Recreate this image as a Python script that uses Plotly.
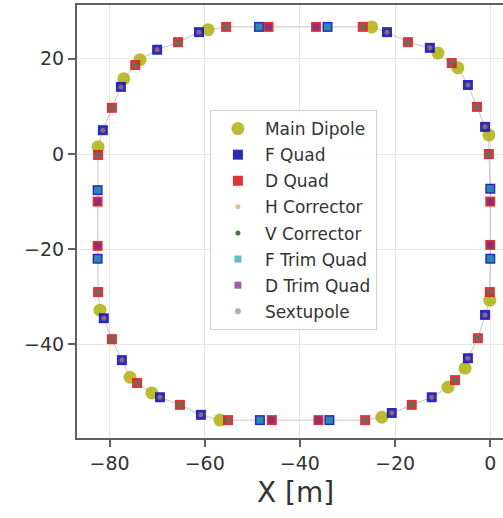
import numpy as np
import plotly.graph_objects as go

# ---- data (positions in metres) ----
dipole_x = [-82.4, -77.0, -73.6, -59.3, -24.9, -11.0, -6.8, -0.3, -0.1, -5.3, -8.9, -22.8, -56.8, -71.1, -75.7, -82.0]
dipole_y = [1.5, 15.8, 19.8, 26.1, 26.7, 21.2, 18.1, 4.0, -30.7, -45.0, -49.0, -55.3, -55.9, -50.2, -46.9, -32.8]

fquad_x = [-81.4, -77.6, -70.0, -61.2, -21.7, -12.7, -4.7, -1.1, -1.1, -4.7, -12.3, -20.7, -60.8, -69.4, -77.4, -81.2,
           -48.6, -34.2, 0.0, 0.0, -48.4, -33.8, -82.5, -82.5]
fquad_y = [5.0, 14.1, 21.9, 25.6, 25.6, 22.3, 14.5, 5.7, -33.8, -42.9, -51.1, -54.4, -54.8, -51.1, -43.3, -34.5,
           26.7, 26.7, -7.3, -22.0, -55.9, -55.9, -7.6, -22.0]

dquad_x = [-82.4, -79.5, -74.6, -65.6, -55.5, -26.8, -17.3, -8.1, -2.8, -0.3, -0.1, -2.6, -7.4, -16.5, -26.3,
           -55.1, -65.2, -74.2, -79.5, -82.4,
           -46.6, -36.6, 0.0, 0.0, -45.9, -36.1, -82.5, -82.5]
dquad_y = [-0.2, 9.7, 18.7, 23.5, 26.7, 26.7, 23.5, 19.1, 9.9, 0.0, -29.0, -38.7, -47.5, -52.7, -55.9,
           -55.9, -52.7, -48.1, -38.9, -29.0,
           26.7, 26.7, -10.0, -19.1, -55.9, -55.9, -10.0, -19.3]

hcorr_x = [-81.4, -77.6, -70.0, -61.2, -21.7, -12.7, -4.7, -1.1, -1.1, -4.7, -12.3, -20.7, -60.8, -69.4, -77.4, -81.2]
hcorr_y = [5.0, 14.1, 21.9, 25.6, 25.6, 22.3, 14.5, 5.7, -33.8, -42.9, -51.1, -54.4, -54.8, -51.1, -43.3, -34.5]

vcorr_x = [-82.4, -79.5, -74.6, -65.6, -55.5, -26.8, -17.3, -8.1, -2.8, -0.3, -0.1, -2.6, -7.4, -16.5, -26.3,
           -55.1, -65.2, -74.2, -79.5, -82.4]
vcorr_y = [-0.2, 9.7, 18.7, 23.5, 26.7, 26.7, 23.5, 19.1, 9.9, 0.0, -29.0, -38.7, -47.5, -52.7, -55.9,
           -55.9, -52.7, -48.1, -38.9, -29.0]

ftrim_x = [-48.6, -34.2, 0.0, 0.0, -48.4, -33.8, -82.5, -82.5]
ftrim_y = [26.7, 26.7, -7.3, -22.0, -55.9, -55.9, -7.6, -22.0]

dtrim_x = [-46.6, -36.6, 0.0, 0.0, -45.9, -36.1, -82.5, -82.5]
dtrim_y = [26.7, 26.7, -10.0, -19.1, -55.9, -55.9, -10.0, -19.3]

sext_x = [-82.4, -79.5, -74.6, -65.6, -55.5, -26.8, -17.3, -8.1, -2.8, -0.3, -0.1, -2.6, -7.4, -16.5, -26.3,
          -55.1, -65.2, -74.2, -79.5, -82.4]
sext_y = [-0.2, 9.7, 18.7, 23.5, 26.7, 26.7, 23.5, 19.1, 9.9, 0.0, -29.0, -38.7, -47.5, -52.7, -55.9,
          -55.9, -52.7, -48.1, -38.9, -29.0]

x_ticks = [-80, -60, -40, -20, 0]
x_tick_labels = ["\u221280", "\u221260", "\u221240", "\u221220", "0"]
y_ticks = [20, 0, -20, -40]
y_tick_labels = ["20", "0", "\u221220", "\u221240"]

fig = go.Figure()

# beam path through all elements, ordered by angle around the ring centre
px = np.array(dipole_x + fquad_x + dquad_x)
py = np.array(dipole_y + fquad_y + dquad_y)
cx, cy = px.mean(), py.mean()
order = np.argsort(np.arctan2(py - cy, px - cx))
path_x = list(px[order]) + [px[order][0]]
path_y = list(py[order]) + [py[order][0]]
fig.add_trace(go.Scatter(x=path_x, y=path_y, mode="lines",
                         line=dict(color="rgba(150,150,150,0.55)", width=1),
                         showlegend=False, hoverinfo="skip"))

series = [
    ("Main Dipole", dipole_x, dipole_y, "circle", 13, "#b5b51e", 0.9),
    ("F Quad", fquad_x, fquad_y, "square", 10, "#1414b4", 0.9),
    ("D Quad", dquad_x, dquad_y, "square", 10, "#d91e1e", 0.9),
    ("H Corrector", hcorr_x, hcorr_y, "circle", 5, "#d09050", 0.6),
    ("V Corrector", vcorr_x, vcorr_y, "circle", 5, "#2e5a2e", 0.85),
    ("F Trim Quad", ftrim_x, ftrim_y, "square", 7, "#2aa8b2", 0.75),
    ("D Trim Quad", dtrim_x, dtrim_y, "square", 7, "#7a2e86", 0.75),
    ("Sextupole", sext_x, sext_y, "circle", 6, "#6a8282", 0.6),
]
for name, xs, ys, sym, size, col, op in series:
    fig.add_trace(go.Scatter(x=xs, y=ys, mode="markers", name=name, legendgroup=name,
                             marker=dict(symbol=sym, size=size, color=col, opacity=op,
                                         line=dict(width=0))))

axis_common = dict(showgrid=True, gridcolor="#e6e6e6", gridwidth=1, zeroline=False,
                   showline=True, linecolor="#606060", linewidth=2,
                   ticks="outside", ticklen=7, tickwidth=1.5, tickcolor="#606060",
                   tickfont=dict(size=19, color="#333333"))

fig.update_layout(
    width=503, height=518,
    margin=dict(l=77, r=0, t=5, b=80),
    paper_bgcolor="white", plot_bgcolor="white",
    font=dict(family="DejaVu Sans", color="#333333"),
    xaxis=dict(range=[-86.83, 2.67], tickvals=x_ticks, ticktext=x_tick_labels,
               mirror=True, **axis_common),
    yaxis=dict(range=[-59.66, 31.3], tickvals=y_ticks, ticktext=y_tick_labels,
               mirror=False, **axis_common),
    legend=dict(x=0.312, y=0.7575, xanchor="left", yanchor="top",
                bgcolor="rgba(255,255,255,0.85)", bordercolor="#d0d0d0", borderwidth=1,
                font=dict(size=17, color="#333333"), itemwidth=44, tracegroupgap=1),
    annotations=[dict(text="X [m]", x=0.512, y=-0.125, xref="paper", yref="paper",
                      xanchor="center", yanchor="middle", showarrow=False,
                      font=dict(size=28, color="#333333"))],
)

fig.write_html("out.html", config={"displayModeBar": False},
               post_script="document.body.style.margin='0';document.body.style.overflow='hidden';")
